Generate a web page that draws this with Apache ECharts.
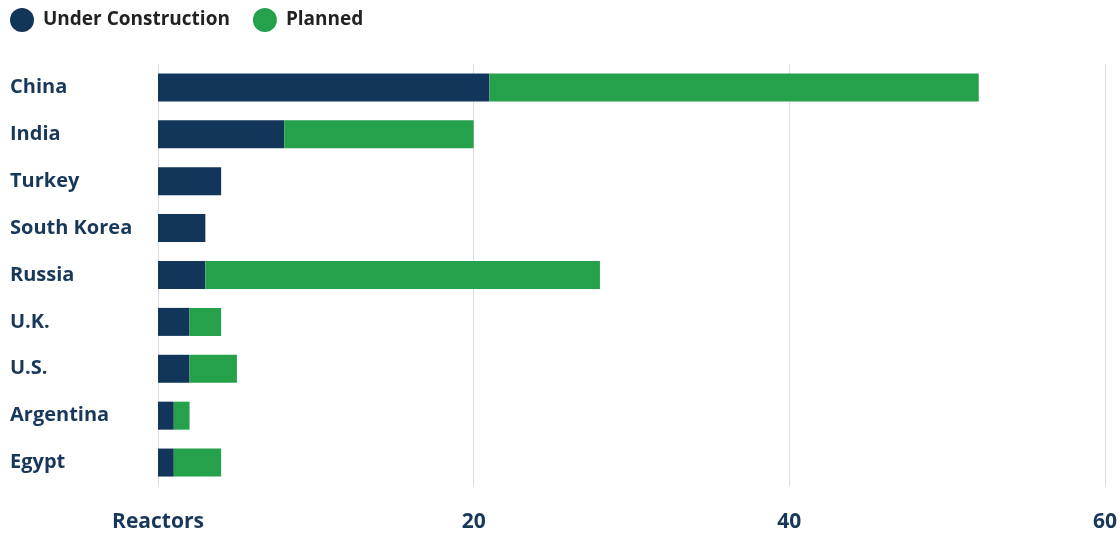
<!DOCTYPE html>
<html>
<head>
<meta charset="utf-8">
<script src="https://cdn.jsdelivr.net/npm/echarts@6/dist/echarts.min.js"></script>
<style>html,body{margin:0;padding:0;background:#fff}#c{width:1120px;height:538px}</style>
</head>
<body>
<div id="c"></div>
<script>
const countries = ['China','India','Turkey','South Korea','Russia','U.K.','U.S.','Argentina','Egypt'];
const underConstruction = [21, 8, 4, 3, 3, 2, 2, 1, 1];
const planned = [31, 12, 0, 0, 25, 2, 3, 1, 3];
const xTickLabels = {0: 'Reactors', 20: '20', 40: '40', 60: '60'};

const chart = echarts.init(document.getElementById('c'));
const font = '"Open Sans", sans-serif';
chart.setOption({
  animation: false,
  textStyle: {fontFamily: font},
  legend: {
    left: 10, top: 8, padding: 0, itemWidth: 24, itemHeight: 24, itemGap: 23,
    icon: 'circle',
    textStyle: {fontFamily: font, fontSize: 19, fontWeight: 'bold', color: '#222', padding: [0,0,0,4]}
  },
  grid: {left: 158, right: 6, top: 64, bottom: 52, containLabel: false},
  xAxis: {
    type: 'value', min: 0, max: 60, interval: 20,
    axisLine: {show: false}, axisTick: {show: false},
    splitLine: {lineStyle: {color: '#d9dee4', width: 1}},
    axisLabel: {
      margin: 26, fontFamily: font, fontSize: 21, fontWeight: 'bold', color: '#17385a',
      formatter: v => xTickLabels[v] || String(v)
    }
  },
  yAxis: {
    type: 'category', data: countries, inverse: true,
    axisLine: {show: false}, axisTick: {show: false},
    axisLabel: {
      align: 'left', margin: 148, fontFamily: font, fontSize: 20, fontWeight: 'bold', color: '#17385a'
    }
  },
  series: [
    {name: 'Under Construction', type: 'bar', stack: 'a', data: underConstruction,
     barWidth: 28, itemStyle: {color: '#12365a'}},
    {name: 'Planned', type: 'bar', stack: 'a', data: planned,
     barWidth: 28, itemStyle: {color: '#26a14b'}}
  ]
});
</script>
</body>
</html>
